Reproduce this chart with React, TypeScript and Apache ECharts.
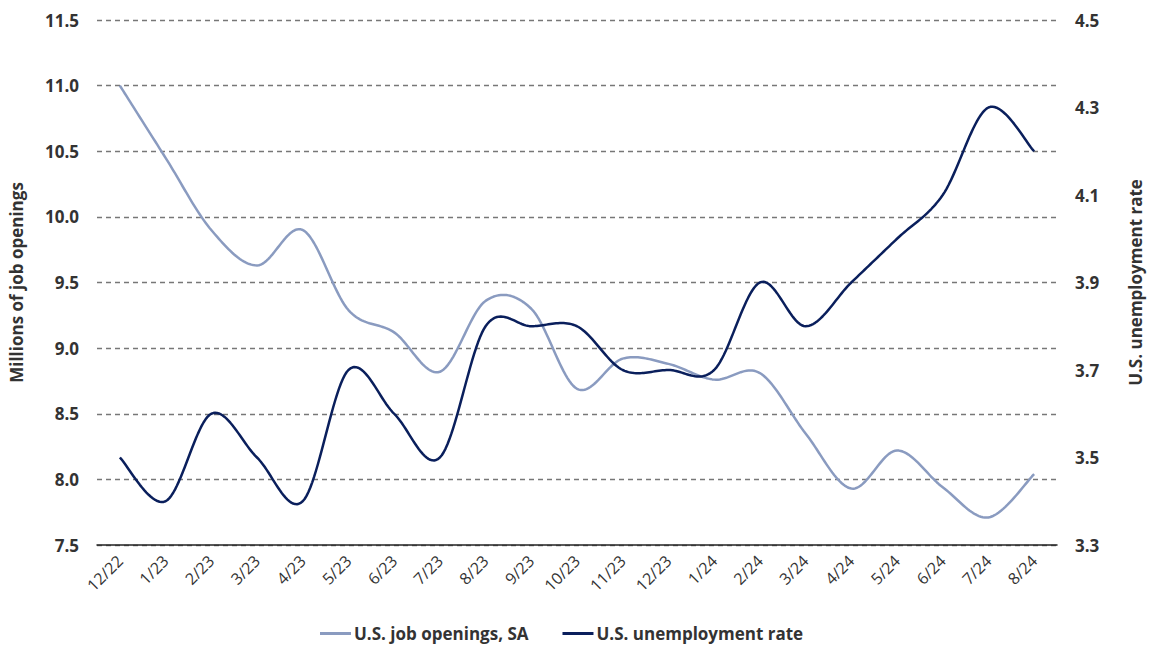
import React, { useEffect, useRef } from "react";
import * as echarts from "echarts";

const categories = ["12/22","1/23","2/23","3/23","4/23","5/23","6/23","7/23","8/23","9/23","10/23","11/23","12/23","1/24","2/24","3/24","4/24","5/24","6/24","7/24","8/24"];
const jobOpenings = [11.0,10.45,9.9,9.63,9.9,9.29,9.12,8.82,9.36,9.3,8.69,8.92,8.88,8.76,8.81,8.35,7.93,8.22,7.94,7.71,8.04];
const unemployment = [3.5,3.4,3.6,3.5,3.4,3.7,3.6,3.5,3.8,3.8,3.8,3.7,3.7,3.7,3.9,3.8,3.9,4.0,4.1,4.3,4.2];
const leftTicks = { min: 7.5, max: 11.5, interval: 0.5 };
const rightTicks = { min: 3.3, max: 4.5, interval: 0.2 };

const FONT = "'Open Sans', Lato, sans-serif";
const TEXT = "#333333";
const JOB_COLOR = "#8A9BC0";
const UNEMP_COLOR = "#0A1F5C";

// Catmull-Rom style smoothing (like spreadsheet smoothed lines) in pixel space
function smoothPoints(pts: number[][]): number[][] {
  const out: number[][] = [];
  const n = pts.length;
  const steps = 24;
  for (let i = 0; i < n - 1; i++) {
    const p0 = pts[Math.max(0, i - 1)];
    const p1 = pts[i];
    const p2 = pts[i + 1];
    const p3 = pts[Math.min(n - 1, i + 2)];
    const c1 = [p1[0] + (p2[0] - p0[0]) / 6, p1[1] + (p2[1] - p0[1]) / 6];
    const c2 = [p2[0] - (p3[0] - p1[0]) / 6, p2[1] - (p3[1] - p1[1]) / 6];
    for (let s = 0; s < steps; s++) {
      const t = s / steps;
      const mt = 1 - t;
      const x = mt * mt * mt * p1[0] + 3 * mt * mt * t * c1[0] + 3 * mt * t * t * c2[0] + t * t * t * p2[0];
      const y = mt * mt * mt * p1[1] + 3 * mt * mt * t * c1[1] + 3 * mt * t * t * c2[1] + t * t * t * p2[1];
      out.push([x, y]);
    }
  }
  out.push(pts[n - 1]);
  return out;
}

function makeCurveSeries(name: string, values: number[], yAxisIndex: number, color: string) {
  return {
    name,
    type: "custom",
    yAxisIndex,
    data: values.map((v, i) => [i, v]),
    encode: { x: 0, y: 1 },
    itemStyle: { color },
    clip: false,
    renderItem: (params: any, api: any) => {
      if (params.dataIndex !== 0) return null;
      const pts = values.map((v, i) => api.coord([i, v]));
      return {
        type: "polyline",
        shape: { points: smoothPoints(pts) },
        style: { stroke: color, lineWidth: 2.5, fill: "none", lineJoin: "round", lineCap: "butt" },
      };
    },
  };
}

export default function App() {
  const ref = useRef<HTMLDivElement>(null);
  useEffect(() => {
    if (!ref.current) return;
    const chart = echarts.init(ref.current, null, { renderer: "svg" });
    chart.setOption({
      animation: false,
      textStyle: { fontFamily: FONT },
      grid: { left: 96, right: 92, top: 20, bottom: 102, containLabel: false },
      legend: {
        bottom: 0,
        left: 315,
        itemWidth: 31,
        itemHeight: 3,
        itemGap: 34,
        icon: "rect",
        textStyle: { fontFamily: FONT, fontSize: 17, fontWeight: "bold", color: TEXT, padding: [0, 0, 0, -2] },
        data: [
          { name: "U.S. job openings, SA", itemStyle: { color: JOB_COLOR } },
          { name: "U.S. unemployment rate", itemStyle: { color: UNEMP_COLOR } },
        ],
      },
      xAxis: {
        type: "category",
        data: categories,
        boundaryGap: true,
        axisLine: { lineStyle: { color: "#222", width: 1.5 } },
        axisTick: { show: false },
        axisLabel: { rotate: 45, fontSize: 16, color: "#333", margin: 13, interval: 0, fontFamily: FONT },
      },
      yAxis: [
        {
          type: "value",
          min: leftTicks.min,
          max: leftTicks.max,
          interval: leftTicks.interval,
          name: "Millions of job openings",
          nameLocation: "middle",
          nameRotate: 90,
          nameGap: 72,
          nameTextStyle: { fontSize: 17, fontWeight: "bold", color: TEXT, fontFamily: FONT },
          axisLine: { show: false },
          axisTick: { show: false },
          axisLabel: { fontSize: 17, fontWeight: "bold", color: TEXT, margin: 18, formatter: (v: number) => v.toFixed(1), fontFamily: FONT },
          splitLine: { lineStyle: { color: "#777", type: [5, 4], width: 1.3 } },
        },
        {
          type: "value",
          min: rightTicks.min,
          max: rightTicks.max,
          interval: rightTicks.interval,
          name: "U.S. unemployment rate",
          nameLocation: "middle",
          nameRotate: 90,
          nameGap: 70,
          nameTextStyle: { fontSize: 17, fontWeight: "bold", color: TEXT, fontFamily: FONT },
          axisLine: { show: false },
          axisTick: { show: false },
          axisLabel: { fontSize: 17, fontWeight: "bold", color: TEXT, margin: 18, formatter: (v: number) => v.toFixed(1), fontFamily: FONT },
          splitLine: { show: false },
        },
      ],
      series: [
        makeCurveSeries("U.S. job openings, SA", jobOpenings, 0, JOB_COLOR),
        makeCurveSeries("U.S. unemployment rate", unemployment, 1, UNEMP_COLOR),
      ],
    });
    return () => chart.dispose();
  }, []);
  return <div ref={ref} style={{ width: 1152, height: 647, position: "absolute", left: 0, top: 0 }} />;
}
